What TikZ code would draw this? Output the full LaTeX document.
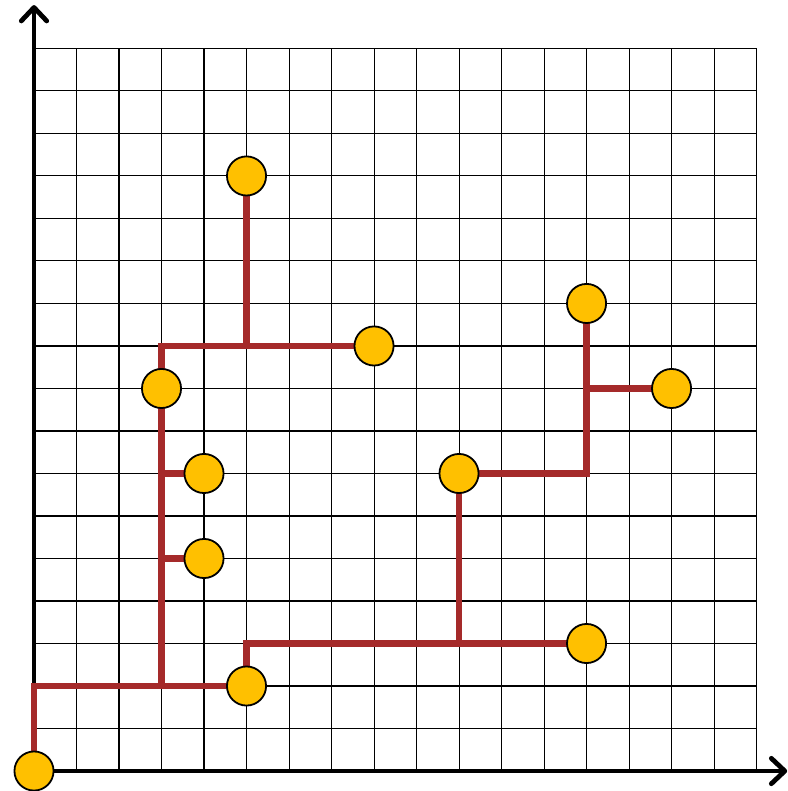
\documentclass[tikz,border=0pt]{standalone}
\usetikzlibrary{arrows.meta,backgrounds}
\definecolor{pathred}{HTML}{A52A2A}
\definecolor{dotyellow}{HTML}{FFC000}
\tikzset{
  gridline/.style={draw=black, line width=0.7pt},
  axisline/.style={line width=3.2pt, -{Straight Barb[length=9pt,width=17pt,round]}},
  redpath/.style={draw=pathred, line width=4.6pt},
  dot/.style={circle, fill=dotyellow, draw=black, line width=1.2pt, minimum size=0.92cm, inner sep=0pt}
}
\begin{document}
\begin{tikzpicture}
\useasboundingbox (-0.8,-0.47) rectangle (17.72,18.14);
% junction coordinates
\coordinate (j32) at (3,2);
\coordinate (j310) at (3,10);
\coordinate (j510) at (5,10);
\coordinate (j37) at (3,7);
\coordinate (j35) at (3,5);
\coordinate (j103) at (10,3);
\coordinate (j139) at (13,9);
\coordinate (xend) at (17.72,0);
\coordinate (yend) at (0,18.02);
\coordinate (o) at (0,0);
% nodes
\node[dot] (n00) at (0,0) {};
\node[dot] (n52) at (5,2) {};
\node[dot] (n133) at (13,3) {};
\node[dot] (n107) at (10,7) {};
\node[dot] (n1311) at (13,11) {};
\node[dot] (n159) at (15,9) {};
\node[dot] (n39) at (3,9) {};
\node[dot] (n47) at (4,7) {};
\node[dot] (n45) at (4,5) {};
\node[dot] (n514) at (5,14) {};
\node[dot] (n810) at (8,10) {};
\begin{pgfonlayer}{background}
\draw[gridline] (0,0) grid (17,17);
\draw[axisline] (o) -- (xend);
\draw[axisline] (o) -- (yend);
% red paths
\draw[redpath] (n00.center) |- (n52.center);
\draw[redpath] (j32) -- (j310) -- (n810.center);
\draw[redpath] (j510) -- (n514.center);
\draw[redpath] (j37) -- (n47.center);
\draw[redpath] (j35) -- (n45.center);
\draw[redpath] (n52.center) |- (n133.center);
\draw[redpath] (j103) -- (n107.center) -| (n1311.center);
\draw[redpath] (j139) -- (n159.center);
\end{pgfonlayer}
\end{tikzpicture}
\end{document}
